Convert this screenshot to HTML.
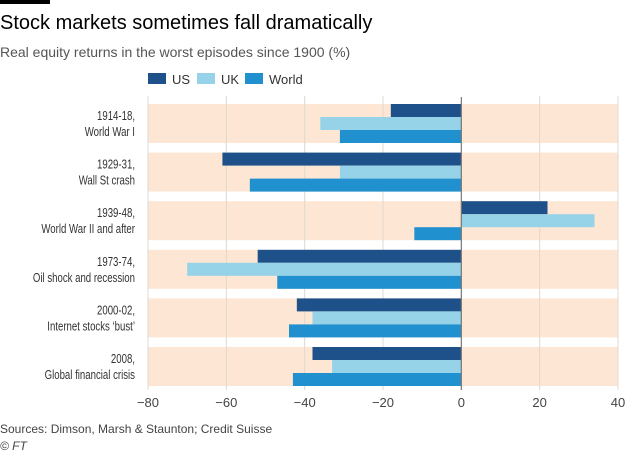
<!DOCTYPE html>
<html><head><meta charset="utf-8"><style>
body{margin:0;background:#fff;font-family:"Liberation Sans",sans-serif;}
svg text{font-family:"Liberation Sans",sans-serif;}
</style></head><body>
<svg id="c" width="634" height="453" xmlns="http://www.w3.org/2000/svg">
<rect x="0" y="0" width="50" height="4" fill="#000"/>
<text x="0" y="29" font-size="20" fill="#000">Stock markets sometimes fall dramatically</text>
<text x="0" y="57" font-size="14" fill="#555">Real equity returns in the worst episodes since 1900 (%)</text>
<g id="legend"></g>
<g id="plot"></g>
<text x="0" y="433" font-size="12" fill="#444">Sources: Dimson, Marsh &amp; Staunton; Credit Suisse</text>
<text x="0" y="450" font-size="12" fill="#444" font-style="italic">© FT</text>
</svg>
<script>
const categories=[["1914-18,","World War I"],["1929-31,","Wall St crash"],["1939-48,","World War II and after"],["1973-74,","Oil shock and recession"],["2000-02,","Internet stocks ‘bust’"],["2008,","Global financial crisis"]];
const seriesNames=["US","UK","World"];
const usValues=[-18,-61,22,-52,-42,-38];
const ukValues=[-36,-31,34,-70,-38,-33];
const worldValues=[-31,-54,-12,-47,-44,-43];
const xTicks=[-80,-60,-40,-20,0,20,40];
const colors=["#1e5089","#96d2e8","#2190cf"];
const NS="http://www.w3.org/2000/svg";
const x0=148,x1=618,xmin=-80,xmax=40;
const xs=v=>x0+(v-xmin)/(xmax-xmin)*(x1-x0);
const bandTop=i=>104+i*48.6, bandH=39;
const plot=document.getElementById('plot');
function mk(t,a,p){const e=document.createElementNS(NS,t);for(const k in a)e.setAttribute(k,a[k]);(p||plot).appendChild(e);return e;}
categories.forEach((c,i)=>{
 const b=mk('rect',{x:x0,y:bandTop(i),width:x1-x0,height:bandH,fill:'#fde6d3'});
 
 
 c.forEach((l,j)=>{const t=mk('text',{x:135,y:bandTop(i)+16+j*16,'font-size':13,fill:'#333','text-anchor':'end'});t.textContent=l;
 
 
 const w=t.getComputedTextLength();
 t.setAttribute('textLength',(w*0.74).toFixed(1));
 t.setAttribute('lengthAdjust','spacingAndGlyphs');});
});
xTicks.forEach(v=>{
 if(v===0)return;
 const l=mk('line',{x1:xs(v),x2:xs(v),y1:96,y2:390,stroke:'#e0d8d0','stroke-width':1});
 
 
});
const all=[usValues,ukValues,worldValues];
categories.forEach((c,i)=>{
 all.forEach((arr,s)=>{
  const v=arr[i];const a=xs(Math.min(0,v)),b=xs(Math.max(0,v));
  const r=mk('rect',{x:a,y:bandTop(i)+s*13,width:b-a,height:13,fill:colors[s]});
  
  
 });
});
const z=mk('line',{x1:xs(0),x2:xs(0),y1:97,y2:390,stroke:'#777','stroke-width':1.2});


xTicks.forEach(v=>{
 const t=mk('text',{x:xs(v),y:407,'font-size':13,fill:'#444','text-anchor':'middle'});
 t.textContent=v===0?'0':(v<0?'−'+(-v):v);
 
 
});
const lg=document.getElementById('legend');
const lx=[148,197,245];
seriesNames.forEach((n,s)=>{
 const r=mk('rect',{x:lx[s],y:73,width:18,height:11,fill:colors[s]},lg);
 
 
 const t=mk('text',{x:lx[s]+24,y:84,'font-size':13,fill:'#333'},lg);t.textContent=n;
 
 
});
</script>
</body></html>
